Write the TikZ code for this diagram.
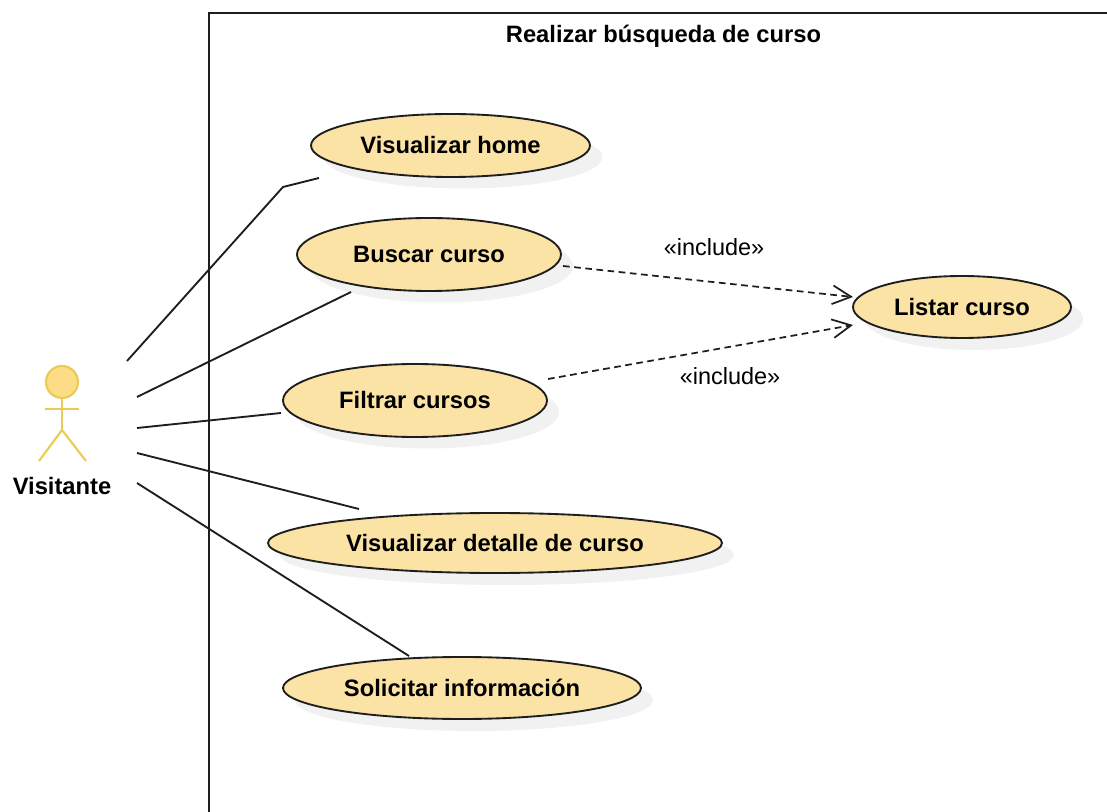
\documentclass[tikz,border=0pt]{standalone}
\usepackage{fontspec}
\setmainfont{Liberation Sans}
\usetikzlibrary{shapes.geometric,arrows.meta}
\definecolor{ucfill}{HTML}{FBE3A6}
\definecolor{actorc}{HTML}{E8CC55}
\definecolor{actorf}{HTML}{FCDD85}
\definecolor{shadowc}{HTML}{F1F1F1}
\definecolor{inkc}{HTML}{1E1E1E}
\tikzset{
  x=0.75pt,y=-0.75pt,
  usecase/.style={ellipse,draw=inkc,fill=ucfill,line width=1.4pt,inner sep=0pt,
    font=\bfseries\fontsize{17.8}{20}\selectfont,text=black},
  ushadow/.style={ellipse,fill=shadowc,inner sep=0pt},
  assoc/.style={draw=inkc,line width=1.4pt},
  incl/.style={draw=inkc,line width=1.3pt,dash pattern=on 5pt off 3.4pt,
    -{Straight Barb[length=14pt,width=14pt,line width=1.3pt]}},
  actorline/.style={draw=actorc,line width=1.6pt},
  stereo/.style={font=\fontsize{17.6}{20}\selectfont,text=black},
  boldlab/.style={font=\bfseries\fontsize{17.8}{20}\selectfont,text=black}
}
\begin{document}
\begin{tikzpicture}
\useasboundingbox (0,0) rectangle (1107,812);
\fill[white] (0,0) rectangle (1107,812);
% shadows
\node[ushadow,minimum width=209.25pt,minimum height=47.25pt] (shome) at (463,157) {};
\node[ushadow,minimum width=198pt,minimum height=54.75pt] (sbuscar) at (441,266) {};
\node[ushadow,minimum width=198pt,minimum height=54.75pt] (sfiltrar) at (427,412) {};
\node[ushadow,minimum width=340.5pt,minimum height=45pt] (sdetalle) at (507,555) {};
\node[ushadow,minimum width=268.5pt,minimum height=46.5pt] (ssolicitar) at (474,700) {};
\node[ushadow,minimum width=163.5pt,minimum height=46.5pt] (slistar) at (974,319) {};
% frame
\coordinate (ftop) at (1107,13);
\coordinate (fcorner) at (209,13);
\coordinate (fbot) at (209,812);
\draw[draw=inkc,line width=1.5pt] (ftop) -- (fcorner) -- (fbot);
\node[boldlab] (title) at (663.5,36) {Realizar búsqueda de curso};
% use cases
\node[usecase,minimum width=209.25pt,minimum height=47.25pt] (home) at (450.5,145.5) {Visualizar home};
\node[usecase,minimum width=198pt,minimum height=54.75pt] (buscar) at (429,254.5) {Buscar curso};
\node[usecase,minimum width=198pt,minimum height=54.75pt] (filtrar) at (415,400.5) {Filtrar cursos};
\node[usecase,minimum width=340.5pt,minimum height=45pt] (detalle) at (495,543) {Visualizar detalle de curso};
\node[usecase,minimum width=268.5pt,minimum height=46.5pt] (solicitar) at (462,688) {Solicitar información};
\node[usecase,minimum width=163.5pt,minimum height=46.5pt] (listar) at (962,307) {Listar curso};
% actor
\node[circle,draw=actorc,fill=actorf,line width=1.6pt,minimum size=24pt,inner sep=0pt] (head) at (62,382) {};
\coordinate (hip) at (62,430);
\coordinate (arml) at (45,409);
\coordinate (armr) at (79,409);
\coordinate (legl) at (39,461);
\coordinate (legr) at (86,461);
\draw[actorline] (head.south) -- (hip);
\draw[actorline] (arml) -- (armr);
\draw[actorline] (legl) -- (hip) -- (legr);
\node[boldlab] (visitante) at (62,486) {Visitante};
% associations
\coordinate (a1) at (127,361); \coordinate (a1m) at (283,187); \coordinate (e1) at (319,178);
\coordinate (a2) at (137,397); \coordinate (e2) at (351,292);
\coordinate (a3) at (137,428); \coordinate (e3) at (281,413);
\coordinate (a4) at (137,453); \coordinate (e4) at (359,509);
\coordinate (a5) at (137,483); \coordinate (e5) at (409,656);
\draw[assoc] (a1) -- (a1m) -- (e1);
\draw[assoc] (a2) -- (e2);
\draw[assoc] (a3) -- (e3);
\draw[assoc] (a4) -- (e4);
\draw[assoc] (a5) -- (e5);
% includes
\coordinate (i1s) at (563,266); \coordinate (i1e) at (853,297);
\coordinate (i2s) at (548,379); \coordinate (i2e) at (853,325);
\draw[incl] (i1s) -- (i1e);
\draw[incl] (i2s) -- (i2e);
\node[stereo] (l1) at (714,247) {«include»};
\node[stereo] (l2) at (730,376) {«include»};
\end{tikzpicture}
\end{document}
